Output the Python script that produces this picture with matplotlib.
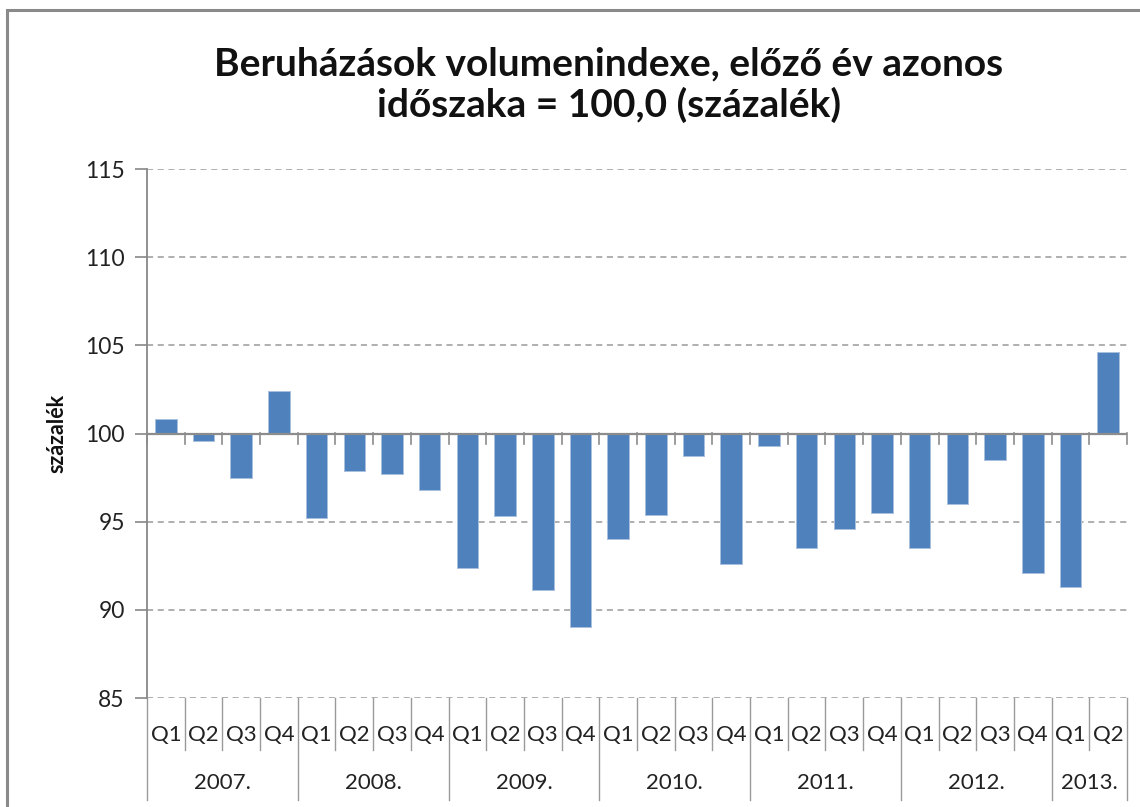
import matplotlib
matplotlib.use('Agg')
import matplotlib.pyplot as plt
import numpy as np
from matplotlib.transforms import blended_transform_factory
from matplotlib.patches import Rectangle

# ---- data ----
title = 'Beruházások volumenindexe, előző év azonos\nidőszaka = 100,0 (százalék)'
ylabel = 'százalék'
years = ['2007.', '2008.', '2009.', '2010.', '2011.', '2012.', '2013.']
quarters_per_year = [4, 4, 4, 4, 4, 4, 2]
quarter_labels = ['Q1', 'Q2', 'Q3', 'Q4'] * 6 + ['Q1', 'Q2']
values = [100.8, 99.6, 97.5, 102.4,
          95.2, 97.9, 97.7, 96.8,
          92.4, 95.3, 91.1, 89.0,
          94.0, 95.4, 98.7, 92.6,
          99.3, 93.5, 94.6, 95.5,
          93.5, 96.0, 98.5, 92.1,
          91.3, 104.6]
yticks = [85, 90, 95, 100, 105, 110, 115]
baseline = 100

plt.rcParams['font.family'] = ['Lato', 'DejaVu Sans']

W, H = 1140, 807
fig = plt.figure(figsize=(W / 100, H / 100), dpi=100)
fig.patch.set_facecolor('white')

def fy(py):
    return 1 - py / H

ax_l, ax_r, ax_t, ax_b = 147, 1127, 169, 698
ax = fig.add_axes([ax_l / W, fy(ax_b), (ax_r - ax_l) / W, (ax_b - ax_t) / H])

x = np.arange(len(values))
heights = np.array(values) - baseline
ax.bar(x, heights, bottom=baseline, width=0.57, color='#4F81BD',
       edgecolor='#A9C0DE', linewidth=0.7, zorder=3)

ax.set_xlim(-0.5, len(values) - 0.5)
ax.set_ylim(yticks[0], yticks[-1])
ax.set_yticks(yticks)
ax.set_yticklabels([str(v) for v in yticks], fontsize=16.5, color='#222222')
ax.tick_params(axis='y', length=9, width=1.2, color='#888888', pad=7)
ax.set_xticks([])
for s in ['top', 'right', 'bottom']:
    ax.spines[s].set_visible(False)
ax.spines['left'].set_color('#888888')
ax.spines['left'].set_linewidth(1.3)

for v in yticks:
    if v != baseline:
        ax.axhline(v, color='#9a9a9a', ls=(0, (4, 3)), lw=1.1, zorder=1)

# category axis crossing at baseline
ax.axhline(baseline, color='#8c8c8c', lw=1.6, zorder=4)
bounds = np.arange(len(values) + 1) - 0.5
tr_pts = blended_transform_factory(ax.transData, fig.transFigure)
ybase = fy(ax_b) + (baseline - yticks[0]) / (yticks[-1] - yticks[0]) * (ax_b - ax_t) / H
for b in bounds:
    ax.plot([b, b], [ybase, ybase - 10 / H], transform=tr_pts, color='#8c8c8c',
            lw=1.2, clip_on=False, zorder=4)

# multi-level category labels
year_bounds = np.concatenate([[0], np.cumsum(quarters_per_year)])
for i, b in enumerate(bounds):
    end = 800 if i in year_bounds else 750
    ax.plot([b, b], [fy(ax_b), fy(end)], transform=tr_pts, color='#9a9a9a',
            lw=1.0, clip_on=False)
for xi, q in zip(x, quarter_labels):
    fig.text(xi, fy(735), q, transform=tr_pts, ha='center', va='center',
             fontsize=16, color='#222222')
for i, yr in enumerate(years):
    mid = (year_bounds[i] + year_bounds[i + 1] - 1) / 2
    fig.text(mid, fy(783), yr, transform=tr_pts, ha='center', va='center',
             fontsize=16, color='#222222')

fig.text(57 / W, fy(433), ylabel, rotation=90, ha='center', va='center',
         fontsize=15.5, fontweight='bold', color='#111111')

fig.text(609 / W, fy(85), title, ha='center', va='center', fontsize=28,
         fontweight='bold', linespacing=1.17, color='#111111')

fig.add_artist(Rectangle((7 / W, -0.1), 1.2, fy(10) + 0.1, transform=fig.transFigure,
                         fill=False, edgecolor='#8a8a8a', lw=2.2))

fig.savefig('out.png', dpi=100)
